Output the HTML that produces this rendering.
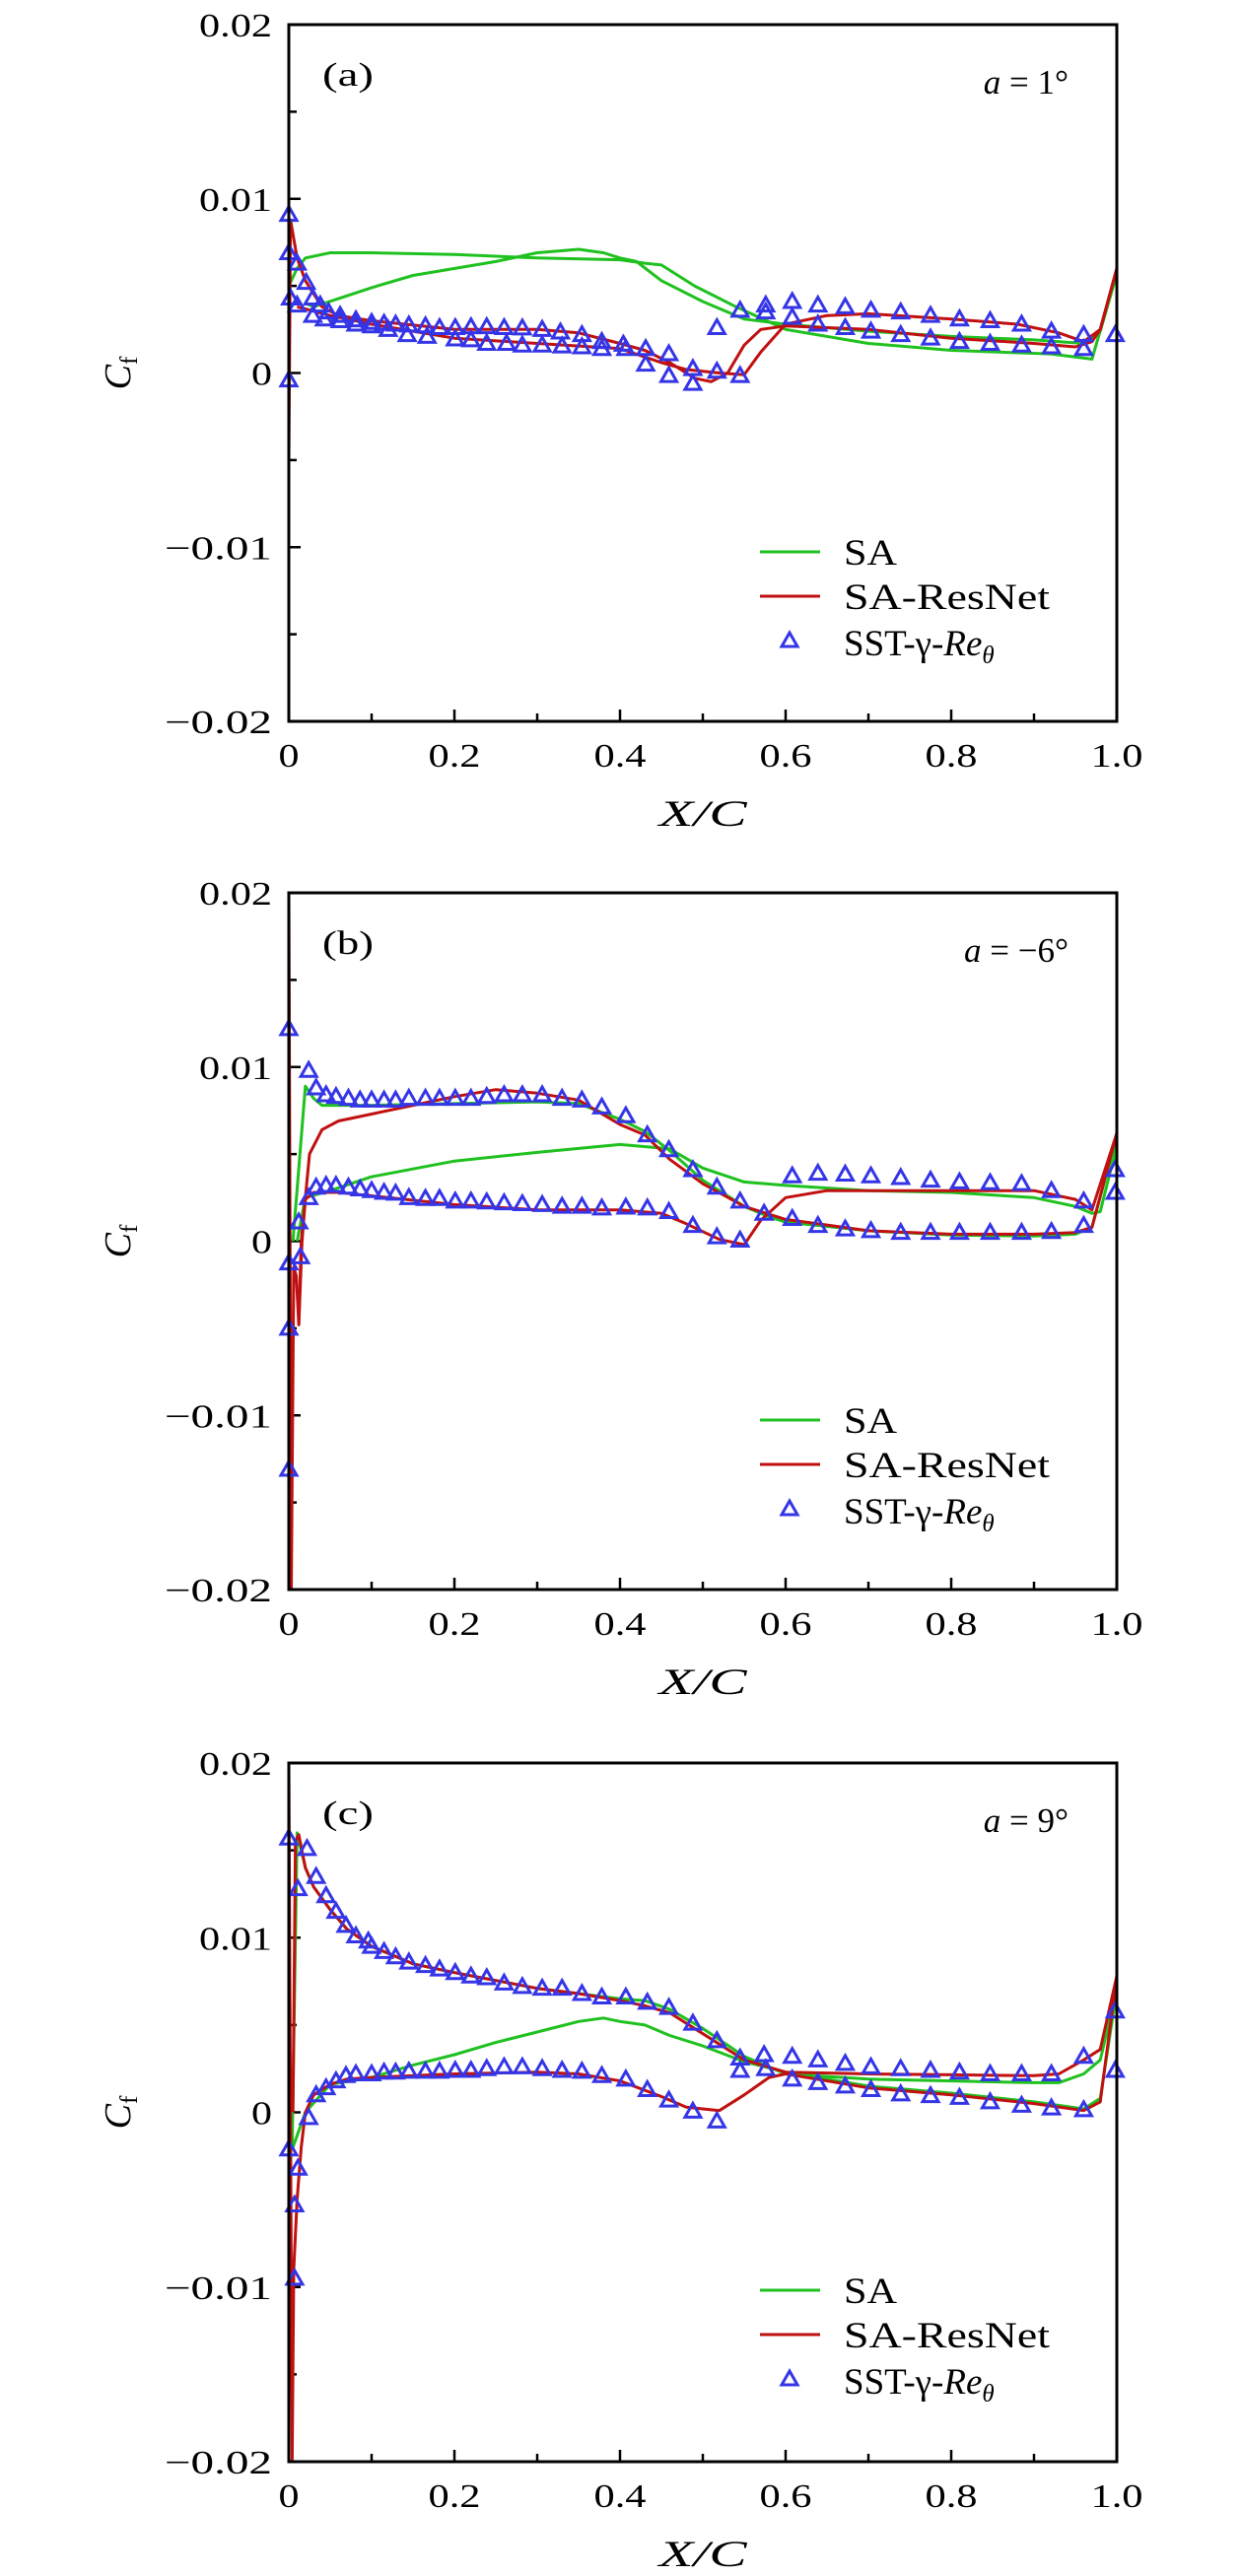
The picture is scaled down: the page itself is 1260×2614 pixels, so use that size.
<!DOCTYPE html>
<html><head><meta charset="utf-8"><style>
html,body{margin:0;padding:0;background:#fff;}
svg{display:block;}
text{font-family:"Liberation Serif",serif;fill:#000;}
</style></head><body>
<svg id="fig" width="1260" height="2614" viewBox="0 0 1260 2614" xmlns="http://www.w3.org/2000/svg"></svg>
<script>
// ---------- data (Cf values in units of 1e-3) ----------
const xTicks = [0, 0.2, 0.4, 0.6, 0.8, 1.0];
const xTickLabels = ["0", "0.2", "0.4", "0.6", "0.8", "1.0"];
const yTicks = [-0.02, -0.01, 0, 0.01, 0.02];
const yTickLabels = ["\u22120.02", "\u22120.01", "0", "0.01", "0.02"];
const panelLabels = ["(a)", "(b)", "(c)"];
const angleLabels = ["1", "\u22126", "9"];

// Panel (a)
const aSaUx = [0,.01,.02,.05,.1,.2,.3,.4,.43,.45,.49,.54,.6,.7,.8,.92,.97,1.0];
const aSaUy = [5.0,6.0,6.6,6.9,6.9,6.8,6.6,6.5,6.3,6.2,5.0,3.8,2.5,1.7,1.3,1.1,0.8,5.7];
const aSaLx = [.02,.03,.1,.15,.25,.3,.35,.38,.4,.42,.45,.5,.55,.6,.7,.8,.9,.96,.98,1.0];
const aSaLy = [4.0,3.8,4.9,5.6,6.4,6.9,7.1,6.9,6.6,6.4,5.3,4.1,3.1,2.8,2.4,2.1,1.9,1.7,2.4,5.7];
const aRnUx = [0,.002,.01,.02,.04,.06,.1,.2,.3,.35,.4,.43,.46,.49,.51,.53,.55,.57,.6,.7,.8,.9,.95,.97,.98,1.0];
const aRnUy = [-5,8.8,6.6,5.3,3.8,3.3,3.0,2.5,2.5,2.3,1.7,1.3,0.6,-0.3,-0.5,0,1.6,2.5,2.7,2.5,2.0,1.7,1.5,1.8,2.5,6.0];
const aRnLx = [.01,.05,.1,.2,.3,.4,.45,.48,.52,.55,.57,.6,.65,.7,.8,.88,.93,.96,.98,1.0];
const aRnLy = [3.8,3.3,2.8,2.0,1.7,1.4,0.6,0.2,0,-0.1,1.2,2.8,3.3,3.4,3.1,2.8,2.3,1.8,2.5,6.0];
const aSst1x = [0,0,.01,.021,.029,.038,.048,.062,.081,.1,.115,.129,.145,.165,.182,.201,.22,.239,.26,.282,.306,.328,.354,.378,.404,.431,.459,.488,.517,.545,.576,.608,.639,.672,.703,.739,.775,.81,.847,.885,.921,.96,.998];
const aSst1y = [9.1,6.9,6.3,5.2,4.3,3.9,3.5,3.3,3.05,2.9,2.85,2.8,2.75,2.7,2.6,2.6,2.65,2.65,2.6,2.58,2.5,2.35,2.2,1.8,1.65,1.4,1.1,0.25,0.1,3.6,3.9,4.1,3.9,3.8,3.6,3.5,3.3,3.1,3.0,2.8,2.4,2.2,2.2];
const aSst2x = [0,.002,.01,.029,.043,.062,.081,.1,.12,.143,.167,.201,.22,.239,.263,.282,.306,.33,.354,.378,.407,.431,.459,.488,.517,.545,.576,.608,.639,.672,.703,.739,.775,.81,.847,.885,.921,.96];
const aSst2y = [-0.4,4.3,3.9,3.3,3.1,3.0,2.8,2.7,2.5,2.2,2.1,1.95,1.9,1.7,1.7,1.6,1.6,1.55,1.5,1.4,1.4,0.5,-0.15,-0.6,2.6,-0.15,3.5,3.2,2.8,2.6,2.4,2.2,2.0,1.8,1.7,1.6,1.5,1.4];

// Panel (b)
const bSaUx = [.005,.02,.03,.04,.1,.2,.3,.35,.4,.43,.46,.5,.55,.58,.6,.7,.8,.9,.95,.97,1.0];
const bSaUy = [0,8.9,8.2,7.8,7.8,7.9,8.0,7.9,7.0,6.3,5.2,3.5,2.0,1.4,1.1,0.6,0.35,0.3,0.4,0.8,6.0];
const bSaLx = [.01,.02,.05,.1,.2,.3,.4,.46,.5,.55,.6,.7,.8,.9,.95,.97,.98,1.0];
const bSaLy = [0,2.5,2.9,3.7,4.6,5.1,5.55,5.3,4.2,3.4,3.2,2.9,2.8,2.5,2.0,1.6,1.7,5.5];
const bRnUx = [.012,.015,.025,.04,.06,.1,.15,.2,.25,.3,.35,.4,.43,.46,.5,.55,.6,.7,.8,.9,.95,.97,1.0];
const bRnUy = [-4.8,0,5.0,6.4,6.9,7.3,7.8,8.3,8.7,8.5,8.1,6.7,6.1,4.7,3.3,2.0,1.25,0.6,0.4,0.4,0.5,0.8,6.2];
const bRnLx = [0,.003,.006,.009,.012,.016,.02,.03,.06,.1,.2,.3,.4,.45,.48,.52,.55,.57,.6,.65,.7,.8,.9,.95,.97,1.0];
const bRnLy = [20,-20,-1.5,-2,-4.8,0,2.4,2.8,2.8,2.6,2.1,1.8,1.8,1.6,1.0,0.1,-0.2,1.2,2.5,2.9,2.9,2.9,2.9,2.4,1.8,6.2];
const bSst1x = [0,.024,.033,.045,.057,.072,.086,.1,.115,.129,.145,.165,.182,.201,.22,.239,.26,.282,.306,.33,.354,.378,.407,.433,.459,.488,.517,.545,.574,.608,.639,.672,.703,.739,.775,.81,.847,.885,.921,.96,.998];
const bSst1y = [12.2,9.8,8.8,8.4,8.3,8.2,8.1,8.1,8.1,8.1,8.2,8.2,8.2,8.2,8.2,8.3,8.4,8.4,8.4,8.2,8.1,7.7,7.2,6.1,5.25,4.1,3.1,2.3,1.6,3.75,3.9,3.85,3.75,3.65,3.5,3.4,3.35,3.3,2.9,2.3,4.1];
const bSst2x = [0,0,0,.012,.014,.024,.033,.045,.057,.072,.086,.1,.115,.129,.145,.165,.182,.201,.22,.239,.26,.282,.306,.33,.354,.378,.407,.433,.459,.488,.517,.545,.608,.639,.672,.703,.739,.775,.81,.847,.885,.921,.96,.998];
const bSst2y = [-1.25,-5.0,-13.1,1.1,-0.9,2.5,3.1,3.2,3.2,3.1,3.0,2.9,2.8,2.75,2.5,2.45,2.45,2.3,2.3,2.25,2.2,2.15,2.1,2.0,2.0,1.9,1.95,1.9,1.7,0.9,0.25,0.06,1.3,0.9,0.7,0.6,0.5,0.5,0.5,0.5,0.5,0.55,0.9,2.8];

// Panel (c)
const cSaUx = [.004,.01,.02,.03,.05,.07,.1,.15,.2,.3,.35,.4,.43,.46,.5,.55,.6,.7,.8,.9,.93,.96,.98,1.0];
const cSaUy = [-2,16.0,14.0,12.9,11.6,10.5,9.5,8.5,8.0,7.1,6.8,6.5,6.4,5.9,4.8,3.2,2.2,1.9,1.8,1.7,1.7,2.2,3.0,7.0];
const cSaLx = [.005,.02,.05,.1,.15,.2,.25,.3,.35,.38,.4,.43,.46,.5,.55,.6,.7,.8,.9,.96,.98,1.0];
const cSaLy = [-2,0,1.6,2.0,2.7,3.3,4.0,4.6,5.2,5.4,5.2,5.0,4.4,3.8,2.9,2.3,1.5,1.1,0.6,0.2,0.8,7.0];
const cRnUx = [.005,.008,.012,.02,.03,.05,.07,.1,.15,.2,.3,.35,.4,.43,.46,.5,.55,.6,.7,.8,.9,.93,.96,.98,1.0];
const cRnUy = [0,15.5,15.9,14.0,12.9,11.6,10.5,9.5,8.5,8.0,7.1,6.8,6.4,6.1,5.7,4.5,3.0,2.3,2.2,2.15,2.1,2.2,3.0,3.6,7.8];
const cRnLx = [0,.004,.006,.01,.015,.02,.03,.05,.07,.1,.2,.3,.35,.4,.45,.48,.52,.55,.58,.6,.7,.8,.9,.96,.98,1.0];
const cRnLy = [20,-20,-9,-5,-2,0,1.0,1.6,1.9,2.0,2.2,2.3,2.2,1.8,0.9,0.3,0.1,1.0,2.0,2.2,1.4,1.0,0.5,0.1,0.6,7.8];
const cSst1x = [0,.011,.022,.033,.045,.057,.069,.081,.096,.1,.115,.129,.145,.165,.182,.201,.22,.239,.26,.282,.306,.33,.354,.378,.407,.433,.459,.488,.517,.545,.574,.608,.639,.672,.703,.739,.775,.81,.847,.885,.921,.96,.998];
const cSst1y = [15.7,12.8,15.1,13.5,12.4,11.5,10.7,10.1,9.8,9.5,9.2,8.9,8.6,8.4,8.2,8.0,7.8,7.7,7.4,7.2,7.1,7.1,6.8,6.6,6.6,6.3,6.0,5.1,4.1,3.1,3.3,3.2,3.0,2.8,2.6,2.5,2.4,2.3,2.2,2.2,2.2,3.2,5.8];
const cSst2x = [0,.007,.007,.011,.024,.033,.045,.057,.069,.081,.1,.115,.129,.145,.165,.182,.201,.22,.239,.26,.282,.306,.33,.354,.378,.407,.433,.459,.488,.517,.545,.576,.608,.639,.672,.703,.739,.775,.81,.847,.885,.921,.96,.998];
const cSst2y = [-2.1,-5.3,-9.5,-3.2,-0.3,1.0,1.4,1.8,2.1,2.2,2.2,2.3,2.3,2.35,2.35,2.35,2.4,2.4,2.5,2.6,2.6,2.5,2.4,2.35,2.1,1.9,1.3,0.7,0.06,-0.5,2.4,2.5,1.9,1.7,1.5,1.3,1.05,0.95,0.85,0.6,0.4,0.25,0.15,2.4];

const panels = [
  {top:25, bot:732, saU:[aSaUx,aSaUy], saL:[aSaLx,aSaLy], rnU:[aRnUx,aRnUy], rnL:[aRnLx,aRnLy], s1:[aSst1x,aSst1y], s2:[aSst2x,aSst2y]},
  {top:906, bot:1613, saU:[bSaUx,bSaUy], saL:[bSaLx,bSaLy], rnU:[bRnUx,bRnUy], rnL:[bRnLx,bRnLy], s1:[bSst1x,bSst1y], s2:[bSst2x,bSst2y]},
  {top:1789, bot:2498, saU:[cSaUx,cSaUy], saL:[cSaLx,cSaLy], rnU:[cRnUx,cRnUy], rnL:[cRnLx,cRnLy], s1:[cSst1x,cSst1y], s2:[cSst2x,cSst2y]}
];

const NS = "http://www.w3.org/2000/svg";
const svg = document.getElementById("fig");
const X0 = 293, X1 = 1133;
const GREEN = "#1fc11f", RED = "#c01010", BLUE = "#3535e8";

function mk(tag, attrs, parent) {
  const e = document.createElementNS(NS, tag);
  for (const k in attrs) e.setAttribute(k, attrs[k]);
  parent.appendChild(e);
  return e;
}
function numWidth(s) {
  let w = 0;
  for (const ch of s) w += (ch === "." ? 11 : ch === "\u2212" ? 35 : 21);
  return w;
}

panels.forEach((p, i) => {
  const g = mk("g", {}, svg);
  
  
  const sx = v => X0 + v * (X1 - X0);
  const sy = v => p.bot - (v + 0.02) / 0.04 * (p.bot - p.top);
  const syk = v => sy(v / 1000);

  const clipId = "clip" + i;
  const cp = mk("clipPath", {id: clipId}, g);
  mk("rect", {x: X0, y: p.top, width: X1 - X0, height: p.bot - p.top}, cp);

  for (let k = 0; k <= 10; k++) {
    const v = k / 10, major = k % 2 === 0;
    const t = mk("line", {x1: sx(v), x2: sx(v), y1: p.bot, y2: p.bot - (major ? 12 : 8), stroke: "#000", "stroke-width": 2.5}, g);
    
    
  }
  for (let k = 0; k <= 8; k++) {
    const v = -0.02 + k * 0.005, major = k % 2 === 0;
    const t = mk("line", {x1: X0, x2: X0 + (major ? 12 : 8), y1: sy(v), y2: sy(v), stroke: "#000", "stroke-width": 2.5}, g);
    
    
  }
  xTicks.forEach((v, k) => {
    const t = mk("text", {x: sx(v), y: p.bot + 46, "font-size": 34, "text-anchor": "middle", textLength: numWidth(xTickLabels[k]), lengthAdjust: "spacingAndGlyphs"}, g);
    t.textContent = xTickLabels[k];
    
    
  });
  yTicks.forEach((v, k) => {
    const t = mk("text", {x: 276, y: sy(v) + 12, "font-size": 34, "text-anchor": "end", textLength: numWidth(yTickLabels[k]), lengthAdjust: "spacingAndGlyphs"}, g);
    t.textContent = yTickLabels[k];
    
    
  });

  const xt = mk("text", {x: 713, y: p.bot + 106, "font-size": 37, "font-style": "italic", "text-anchor": "middle", textLength: 89, lengthAdjust: "spacingAndGlyphs"}, g);
  xt.textContent = "X/C";
  
  
  const yt = mk("text", {transform: `translate(132,${sy(0)}) rotate(-90)`, "font-size": 38, "text-anchor": "middle"}, g);
  
  
  const c1 = mk("tspan", {"font-style": "italic"}, yt); c1.textContent = "C";
  const c2 = mk("tspan", {"font-size": 25, dy: 7}, yt); c2.textContent = "f";

  const plot = mk("g", {"clip-path": `url(#${clipId})`}, g);
  const line = (arr, color, name) => {
    const [xs, ys] = arr;
    const d = xs.map((x, j) => (j ? "L" : "M") + sx(x).toFixed(1) + "," + syk(ys[j]).toFixed(1)).join("");
    const pth = mk("path", {d: d, fill: "none", stroke: color, "stroke-width": 3, "stroke-linejoin": "round"}, plot);
    
    
  };
  line(p.saU, GREEN, "sa-upper-line");
  line(p.saL, GREEN, "sa-lower-line");
  line(p.rnU, RED, "sa-resnet-upper-line");
  line(p.rnL, RED, "sa-resnet-lower-line");
  const tri = (cx, cy, parent) => {
    const h = 8;
    return mk("path", {d: `M${cx},${cy - h}L${cx + h},${cy + h * 0.75}L${cx - h},${cy + h * 0.75}Z`, fill: "none", stroke: BLUE, "stroke-width": 3, "stroke-linejoin": "miter"}, parent);
  };
  [p.s1, p.s2].forEach(([xs, ys]) => {
    xs.forEach((x, j) => {
      const m = tri(sx(x), syk(ys[j]), g);
      
      
    });
  });

  const fr = mk("rect", {x: X0, y: p.top, width: X1 - X0, height: p.bot - p.top, fill: "none", stroke: "#000", "stroke-width": 3}, g);
  
  

  const pl = mk("text", {x: 327, y: p.top + 62, "font-size": 34, textLength: 52, lengthAdjust: "spacingAndGlyphs"}, g);
  pl.textContent = panelLabels[i];
  
  
  const an = mk("text", {x: 1084, y: p.top + 70, "font-size": 35, "text-anchor": "end"}, g);
  
  
  const a1 = mk("tspan", {"font-style": "italic"}, an); a1.textContent = "a";
  const a2 = mk("tspan", {}, an); a2.textContent = " = " + angleLabels[i] + "\u00B0";

  const lg = mk("g", {}, g);
  
  
  const ly = [p.top + 535, p.top + 580, p.top + 627];
  const e1 = mk("line", {x1: 771, x2: 832, y1: ly[0], y2: ly[0], stroke: GREEN, "stroke-width": 3}, lg);
  
  
  const e2 = mk("line", {x1: 771, x2: 832, y1: ly[1], y2: ly[1], stroke: RED, "stroke-width": 3}, lg);
  
  
  const e3 = tri(801, ly[2] - 2, lg);
  
  
  const t1 = mk("text", {x: 856, y: ly[0] + 13, "font-size": 37, textLength: 54, lengthAdjust: "spacingAndGlyphs"}, lg); t1.textContent = "SA";
  
  
  const t2 = mk("text", {x: 856, y: ly[1] + 13, "font-size": 37, textLength: 209, lengthAdjust: "spacingAndGlyphs"}, lg); t2.textContent = "SA-ResNet";
  
  
  const t3 = mk("text", {x: 856, y: ly[2] + 13, "font-size": 37}, lg);
  
  
  const s1 = mk("tspan", {}, t3); s1.textContent = "SST-\u03B3-";
  const s2 = mk("tspan", {"font-style": "italic"}, t3); s2.textContent = "Re";
  const s3 = mk("tspan", {"font-style": "italic", "font-size": 25, dy: 8}, t3); s3.textContent = "\u03B8";
});
</script>
</body></html>
